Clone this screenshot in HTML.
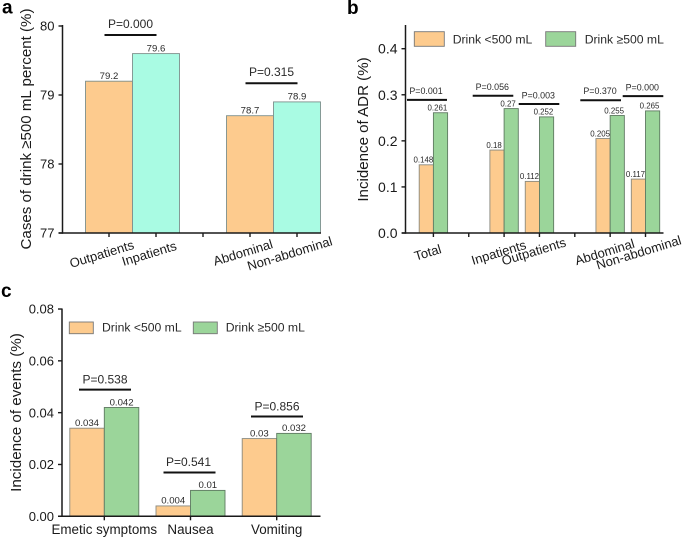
<!DOCTYPE html>
<html>
<head>
<meta charset="utf-8">
<style>
html,body{margin:0;padding:0;background:#fff;}
svg{display:block;font-family:"Liberation Sans",Arial,sans-serif;}
</style>
</head>
<body>
<svg id="fig" xmlns="http://www.w3.org/2000/svg" width="685" height="538" viewBox="0 0 685 538">
  <text x="2" y="13.5" font-size="19" font-weight="bold" fill="#000">a</text>
  <text x="347" y="14" font-size="19" font-weight="bold" fill="#000">b</text>
  <text x="1" y="297" font-size="19" font-weight="bold" fill="#000">c</text>
  <text transform="translate(31,129) rotate(-90)" text-anchor="middle" font-size="15.1" fill="#1a1a1a">Cases of drink ≥500 mL percent (%)</text>
  <text transform="translate(368,129.5) rotate(-90)" text-anchor="middle" font-size="15.1" fill="#1a1a1a">Incidence of ADR (%)</text>
  <text transform="translate(21,412.5) rotate(-90)" text-anchor="middle" font-size="15.2" fill="#1a1a1a">Incidence of events (%)</text>
</svg>
<script>
// Panel a
const aCategories = ['Outpatients', 'Inpatients', '', 'Abdominal', 'Non-abdominal'];
const aValues = [79.2, 79.6, null, 78.7, 78.9];
const aTicks = ['77', '78', '79', '80'];
const aPValues = ['P=0.000', 'P=0.315'];
// Panel b
const bCategories = ['Total', '', 'Inpatients', 'Outpatients', '', 'Abdominal', 'Non-abdominal'];
const bLow = [0.148, null, 0.18, 0.112, null, 0.205, 0.117];
const bHigh = [0.261, null, 0.27, 0.252, null, 0.255, 0.265];
const bTicks = ['0.0', '0.1', '0.2', '0.3', '0.4'];
const bPValues = ['P=0.001', 'P=0.056', 'P=0.003', 'P=0.370', 'P=0.000'];
// Panel c
const cCategories = ['Emetic symptoms', 'Nausea', 'Vomiting'];
const cLow = [0.034, 0.004, 0.03];
const cHigh = [0.042, 0.01, 0.032];
const cTicks = ['0.00', '0.02', '0.04', '0.06', '0.08'];
const cPValues = ['P=0.538', 'P=0.541', 'P=0.856'];
const legendLabels = ['Drink <500 mL', 'Drink ≥500 mL'];

const svg = document.getElementById('fig');
const NS = 'http://www.w3.org/2000/svg';
const ORANGE = '#fdcb8e', TEAL = '#a9fbe3', GREEN = '#9bd59a';
const INK = '#1a1a1a';

function mk(tag, attrs, txt) {
  const e = document.createElementNS(NS, tag);
  for (const k in attrs) e.setAttribute(k, attrs[k]);
  if (txt !== undefined) e.textContent = txt;
  svg.appendChild(e);
  return e;
}
function line(x1, y1, x2, y2, w, color) {
  return mk('line', {x1: x1, y1: y1, x2: x2, y2: y2, stroke: color || INK, 'stroke-width': w});
}
function drawBar(x, w, yTop, yBase, fill, stroke) {
  const el = mk('rect', {x: x, y: yTop, width: w, height: yBase - yTop, fill: fill, stroke: stroke, 'stroke-width': 0.9});
  
  
}
function valueLabel(cx, yTop, v, size) {
  const el = mk('text', {x: cx, y: yTop - 2.2, 'text-anchor': 'middle', 'font-size': size, fill: '#2a2a2a'}, String(v));
  
  
}
function bracket(x1, x2, y, label, tx, ty, size) {
  const b = line(x1, y, x2, y, 2, '#111');
  
  
  const t = mk('text', {x: tx, y: ty, 'text-anchor': 'middle', 'font-size': size, fill: '#2a2a2a'}, label);
  
  
}
function yTick(x, y, label, size) {
  const tk = line(x - 4, y, x, y, 1.4);
  
  
  const t = mk('text', {x: x - 8, y: y + size * 0.36, 'text-anchor': 'end', 'font-size': size, fill: INK}, label);
  
  
}
function xTick(x, y) {
  const tk = line(x, y, x, y + 4, 1.4);
  
  
}
function rotatedLabel(cx, cy, label) {
  const t = mk('text', {transform: 'translate(' + cx + ',' + cy + ') rotate(-17)', 'text-anchor': 'middle', 'dominant-baseline': 'middle', 'font-size': 13, fill: INK}, label);
  
  
}
function legendEntry(x, y, w, h, fill, tx, ty, label, size) {
  const s = mk('rect', {x: x, y: y, width: w, height: h, fill: fill, stroke: '#777', 'stroke-width': 0.9});
  
  
  const t = mk('text', {x: tx, y: ty, 'font-size': size, fill: '#2a2a2a'}, label);
  
  
}
function axisLine(x1, y1, x2, y2, name) {
  const a = line(x1, y1, x2, y2, 1.5);
  
  
}

/* ---------- panel a ---------- */
const yA = v => 233 - (v - 77) * 69;
const xA = i => 109 + 47 * i;
aValues.forEach((v, i) => {
  if (v === null) return;
  drawBar(xA(i) - 23.5, 47, yA(v), yA(77), i % 3 === 0 ? ORANGE : TEAL, '#7d8f8c');
  valueLabel(xA(i), yA(v), v, 9.6);
});
axisLine(62.5, 25, 62.5, 233.7, 'panel-a-y-axis');
axisLine(58.5, 233, 321, 233, 'panel-a-x-axis');
aTicks.forEach(t => yTick(62.5, yA(+t), t, 13));
aCategories.forEach((c, i) => xTick(xA(i), 233));
rotatedLabel(102, 255, aCategories[0]);
rotatedLabel(149.5, 254.5, aCategories[1]);
rotatedLabel(243.3, 253.5, aCategories[3]);
rotatedLabel(290, 254.5, aCategories[4]);
bracket(104.5, 156.5, yA(79.87), aPValues[0], 130.5, 28, 12);
bracket(245.5, 297.5, yA(79.17), aPValues[1], 271.5, 76, 12);

/* ---------- panel b ---------- */
const yB = v => 233 - v * 460.75;
const xB = i => 433.4 + 35.35 * i;
bCategories.forEach((c, i) => {
  if (bLow[i] === null) return;
  drawBar(xB(i) - 14.2, 14.2, yB(bLow[i]), yB(0), ORANGE, '#8a8a80');
  drawBar(xB(i), 14.2, yB(bHigh[i]), yB(0), GREEN, '#5f7a62');
  valueLabel(xB(i) - 10, yB(bLow[i]), bLow[i], 7.9);
  valueLabel(xB(i) + 4, yB(bHigh[i]), bHigh[i], 7.9);
});
axisLine(405.5, 25, 405.5, 233.7, 'panel-b-y-axis');
axisLine(402, 233, 663.5, 233, 'panel-b-x-axis');
bTicks.forEach(t => yTick(405.5, yB(+t), t, 14));
bCategories.forEach((c, i) => xTick(xB(i), 233));
rotatedLabel(428, 253.5, bCategories[0]);
rotatedLabel(499, 253.5, bCategories[2]);
rotatedLabel(534, 252.5, bCategories[3]);
rotatedLabel(605, 253, bCategories[5]);
rotatedLabel(639, 253.5, bCategories[6]);
bracket(407, 447, yB(0.289), bPValues[0], 426, 94, 8.9);
bracket(472.7, 513.3, yB(0.298), bPValues[1], 492.3, 90, 8.9);
bracket(518.7, 559.3, yB(0.28), bPValues[2], 538.3, 98.5, 8.9);
bracket(580.3, 621, yB(0.288), bPValues[3], 600, 94, 8.9);
bracket(622.7, 663.3, yB(0.297), bPValues[4], 642.3, 90.5, 8.9);
legendEntry(414.3, 31.7, 30, 14.6, ORANGE, 452.7, 43.3, legendLabels[0], 12.2);
legendEntry(545.7, 31.7, 30, 14.6, GREEN, 584.7, 43.3, legendLabels[1], 12.2);

/* ---------- panel c ---------- */
const yC = v => 516.3 - v * 2591;
const xC = i => 104.3 + 86.2 * i;
cCategories.forEach((c, i) => {
  drawBar(xC(i) - 34.5, 34.5, yC(cLow[i]), yC(0), ORANGE, '#8a8a80');
  drawBar(xC(i), 34.5, yC(cHigh[i]), yC(0), GREEN, '#5f7a62');
  valueLabel(xC(i) - 17.3, yC(cLow[i]), cLow[i], 9.6);
  valueLabel(xC(i) + 17.3, yC(cHigh[i]), cHigh[i], 9.6);
  const t = mk('text', {x: xC(i), y: 534, 'text-anchor': 'middle', 'font-size': 13.4, fill: INK}, c);
  
  
});
axisLine(62, 308.5, 62, 517, 'panel-c-y-axis');
axisLine(58, 516.3, 320.5, 516.3, 'panel-c-x-axis');
cTicks.forEach(t => yTick(62, yC(+t), t, 13));
cCategories.forEach((c, i) => xTick(xC(i), 516.3));
bracket(79, 131, yC(0.0489), cPValues[0], 105, 383.5, 12);
bracket(163.5, 215.5, yC(0.0169), cPValues[1], 188.5, 466, 12);
bracket(251, 303, yC(0.0385), cPValues[2], 277, 410.5, 12);
legendEntry(69.3, 322, 24, 11.7, ORANGE, 102, 331.5, legendLabels[0], 12.2);
legendEntry(193.3, 322, 24, 11.7, GREEN, 225.7, 331.5, legendLabels[1], 12.2);
</script>
</body>
</html>
